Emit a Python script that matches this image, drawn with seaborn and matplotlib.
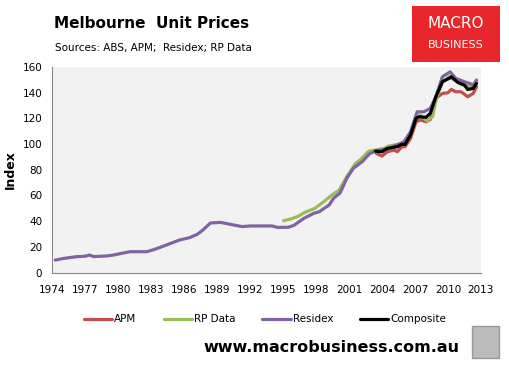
import pandas as pd
import matplotlib
matplotlib.use('Agg')
import matplotlib.pyplot as plt
import seaborn as sns
from matplotlib.patches import Rectangle
from matplotlib.lines import Line2D

# Series (index values, fractional years)
residex_years = [1974.3, 1975, 1976.2, 1977, 1977.4, 1977.8, 1979, 1979.6, 1980.3, 1981.1,
                 1982.6, 1983.3, 1984.4, 1985.6, 1986.5, 1987.2, 1987.7, 1988.4, 1989.3, 1990.2,
                 1991.3, 1992, 1994, 1994.5, 1995.5, 1996, 1996.9, 1997.8, 1998.3, 1999.2,
                 1999.6, 2000.2, 2000.8, 2001.4, 2002.2, 2002.9, 2003.5, 2004.8, 2006, 2006.6,
                 2007.2, 2007.8, 2008.4, 2008.9, 2009.5, 2010.2, 2010.7, 2011.5, 2012, 2012.3, 2012.6]
residex_vals = [9.8, 11, 12.4, 12.8, 13.7, 12.5, 13, 13.7, 15, 16.3,
                16.3, 18, 21.5, 25.4, 27.2, 29.8, 33, 38.6, 39.1, 37.6,
                35.8, 36.3, 36.3, 35.2, 35.3, 36.8, 42.2, 46.1, 47.4, 52.6,
                57.8, 62, 73.3, 81.1, 86.2, 92.7, 94.5, 97.1, 101.7, 109.5,
                125, 125, 127.7, 136.7, 152.3, 156.1, 151, 148.4, 147, 145.8, 149.7]

rp_years = [1995.05, 1995.7, 1996.3, 1997, 1997.9, 1998.7, 1999.4, 2000.1, 2000.8, 2001.6,
            2002, 2002.8, 2003.7, 2004.2, 2004.6, 2005.5, 2006.1, 2006.6, 2007.1, 2007.5,
            2008.1, 2008.6, 2008.9, 2009.5, 2010.1, 2010.6, 2011.2, 2011.8, 2012.3, 2012.6]
rp_vals = [40.4, 41.7, 43.5, 46.9, 50, 55.1, 60, 64.2, 74.6, 85,
           87.5, 94.5, 95.8, 96.6, 98.4, 99.7, 101.7, 108.3, 121.2, 122.2,
           118, 121.2, 134, 148.4, 152.3, 149.7, 146.3, 145, 144.5, 148.4]

apm_years = [2003.5, 2004, 2004.5, 2005.1, 2005.4, 2005.8, 2006.1, 2006.6, 2007.1, 2007.5,
             2008, 2008.4, 2008.9, 2009.5, 2010, 2010.3, 2010.7, 2011.2, 2011.8, 2012.3, 2012.6]
apm_vals = [92.7, 90.6, 94, 95.3, 94, 97.9, 97.9, 104.4, 117.3, 118.6,
            117.3, 119.1, 135.4, 139.3, 139.8, 142.4, 140.6, 140.6, 136.7, 139.3, 144.5]

comp_years = [2003.4, 2004, 2004.5, 2005.4, 2005.8, 2006.1, 2006.6, 2007.1, 2007.4, 2008,
              2008.4, 2008.9, 2009.5, 2010.1, 2010.3, 2010.9, 2011.5, 2011.8, 2012.3, 2012.6]
comp_vals = [94.5, 94, 96.6, 97.9, 99.7, 99.7, 107, 119.9, 121.2, 120.7,
             123.8, 136.7, 148.4, 151, 152.3, 147.9, 145.8, 142.4, 143.2, 147]

series_names = ['APM', 'RP Data', 'Residex', 'Composite']
series_colors = ['#C0504D', '#9BBB59', '#8064A2', '#000000']
x_ticks = list(range(1974, 2014, 3))
y_ticks = list(range(0, 161, 20))

frames = []
for name, yrs, vals in zip(series_names,
                           [apm_years, rp_years, residex_years, comp_years],
                           [apm_vals, rp_vals, residex_vals, comp_vals]):
    frames.append(pd.DataFrame({'Year': yrs, 'Index': vals, 'Series': name}))
df = pd.concat(frames, ignore_index=True)

sns.set_style('white')
plt.rcParams['font.family'] = ['DejaVu Sans']
plt.rcParams['text.color'] = 'black'
plt.rcParams['axes.labelcolor'] = 'black'

fig = plt.figure(figsize=(5.1, 3.67), dpi=100)
ax = fig.add_axes([0.102, 0.257, 0.841, 0.561])
ax.set_facecolor('#F2F2F2')

sns.lineplot(data=df, x='Year', y='Index', hue='Series', hue_order=series_names,
             palette=dict(zip(series_names, series_colors)), sort=False,
             linewidth=2.3, legend=False, ax=ax)

ax.set_xlim(1974, 2013)
ax.set_ylim(0, 160)
ax.set_xticks(x_ticks)
ax.set_yticks(y_ticks)
ax.tick_params(axis='both', labelsize=7.5, colors='#888888', labelcolor='black',
               length=4, width=0.8, direction='out', pad=3)
ax.tick_params(axis='x', pad=5)
for s in ['top', 'right']:
    ax.spines[s].set_visible(False)
for s in ['left', 'bottom']:
    ax.spines[s].set_color('#888888')
    ax.spines[s].set_linewidth(0.8)
ax.set_xlabel('')
ax.set_ylabel('Index', fontsize=9, fontweight='bold', labelpad=4)

fig.text(0.106, 0.935, 'Melbourne  Unit Prices', fontsize=11, fontweight='bold', va='center')
fig.text(0.108, 0.87, 'Sources: ABS, APM;  Residex; RP Data', fontsize=7.5, va='center')

# logo box
fig.patches.append(Rectangle((0.808, 0.831), 0.172, 0.153, transform=fig.transFigure,
                             facecolor='#E8262B', edgecolor='none'))
fig.text(0.894, 0.935, 'MACRO', color='white', fontsize=11, ha='center', va='center')
fig.text(0.894, 0.877, 'BUSINESS', color='white', fontsize=8, ha='center', va='center')

handles = [Line2D([0], [0], color=c, lw=2.3) for c in series_colors]
fig.legend(handles, series_names, loc='center', bbox_to_anchor=(0.52, 0.13), ncol=4,
           frameon=False, fontsize=7.5, handlelength=2.7, handletextpad=0.2,
           columnspacing=2.6)

fig.text(0.649, 0.054, 'www.macrobusiness.com.au', fontsize=11.5, fontweight='bold',
         ha='center', va='center')
fig.patches.append(Rectangle((0.926, 0.025), 0.052, 0.088, transform=fig.transFigure,
                             facecolor='#BBBBBB', edgecolor='#999999', lw=1))

fig.savefig('out.png', dpi=100)
